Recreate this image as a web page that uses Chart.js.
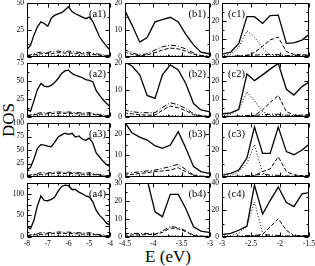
<!DOCTYPE html>
<html>
<head>
<meta charset="utf-8">
<script src="https://cdn.jsdelivr.net/npm/chart.js@4"></script>
<style>
body { margin: 0; background: #fff; }
#fig { position: relative; width: 315px; height: 266px; overflow: hidden; font-family: "Liberation Serif", serif; }
#fig canvas { position: absolute; }
.lab { position: absolute; color: #000; font-size: 17px; white-space: nowrap; transform: translate(-50%, -50%); }
#ylab { left: 9px; top: 120px; transform: translate(-50%, -50%) rotate(-90deg); }
#xlab { left: 168px; top: 257px; }
</style>
</head>
<body>
<div id="fig">
  <div class="lab" id="ylab">DOS</div>
  <div class="lab" id="xlab">E (eV)</div>
</div>
<script>
// energy grids (eV) for each column
const eA = [-8, -7.83, -7.67, -7.5, -7.33, -7.17, -7, -6.83, -6.67, -6.5, -6.33, -6.17, -6, -5.83, -5.67, -5.5, -5.33, -5.17, -5, -4.83, -4.67, -4.5, -4.33, -4.17, -4];
const eB = [-4.52, -4.38, -4.24, -4.11, -3.97, -3.84, -3.7, -3.56, -3.43, -3.29, -3.16, -3.02, -2.88];
const eC = [-3.12, -2.98, -2.85, -2.71, -2.57, -2.44, -2.3, -2.17, -2.03, -1.89, -1.76, -1.62, -1.49, -1.35];

// tick labels
const xTicksA = [-8, -7, -6, -5, -4];
const xTicksB = [-4.5, -4, -3.5, -3];
const xTicksC = [-3, -2.5, -2, -1.5];
const yTicksA = [[0, 25, 50], [0, 25, 50, 75], [0, 25, 50, 75, 100], [0, 25, 50, 75, 100, 125]];
const yTicksB = [[0, 10, 20], [0, 10, 20], [0, 10, 20], [0, 10, 20, 30]];
const yTicksC = [[0, 10, 20, 30], [0, 10, 20, 30], [0, 20, 40], [0, 20, 40]];
const yMaxA = [50, 75, 100, 125];
const yMaxB = [20, 20, 25, 30];
const yMaxC = [30, 30, 40, 40];

// column a : total (solid), dashed, dash-dot, dotted
const a1Tot = [6.5, 11, 20, 28, 32.5, 31, 28.5, 36, 38.5, 40, 41, 43.5, 46.5, 42, 40, 38.5, 37, 35.5, 37, 33, 26, 18.5, 14, 10, 6.5];
const a1Dash = [1, 1.5, 2, 2.5, 3, 3, 3.5, 3, 3.5, 4, 4, 3.5, 4, 3.5, 3, 3.5, 3, 2.5, 3, 2.5, 2, 1.5, 1.5, 1, 1];
const a1DDot = [1.5, 2, 3, 4, 4.5, 4, 4, 5, 5, 5.5, 5, 5, 5.5, 5, 4.5, 4.5, 4, 4, 4.5, 3.5, 3, 2.5, 2, 1.5, 1.5];
const a1Dot = [0.3, 0.5, 0.7, 0.8, 1, 1, 1, 1.2, 1.2, 1.3, 1.2, 1.2, 1.3, 1.2, 1, 1, 1, 1, 1, 0.8, 0.7, 0.5, 0.4, 0.3, 0.3];

const a2Tot = [10.5, 8, 22, 38, 46.5, 43, 42, 44, 48, 53.5, 60.5, 64, 65, 60.5, 58, 56.5, 54.5, 52, 51, 49, 37, 30, 24, 19, 14];
const a2Dash = [1.5, 2, 3, 3.5, 4, 4, 4.5, 4.5, 5, 5, 5.5, 5, 5.5, 5, 4.5, 4.5, 4, 4, 4, 3.5, 3, 2, 2, 1.5, 1.5];
const a2DDot = [2, 3, 4, 5, 6, 6, 5.5, 6.5, 7, 7, 7, 6.5, 7, 6.5, 6, 6, 5.5, 5.5, 6, 5, 4, 3.5, 3, 2, 2];
const a2Dot = [0.5, 0.7, 1, 1, 1.3, 1.3, 1.3, 1.5, 1.5, 1.6, 1.6, 1.5, 1.6, 1.5, 1.3, 1.3, 1.3, 1.3, 1.3, 1, 0.9, 0.7, 0.5, 0.4, 0.4];

const a3Tot = [13, 18, 33, 53, 60, 59, 57, 56, 64, 74, 78, 81, 79, 81, 74, 76, 70, 68, 72, 63, 45, 37, 29, 23, 19];
const a3Dash = [2, 2.5, 4, 4.5, 5, 5, 6, 6, 6.5, 6.5, 7, 6.5, 7, 6.5, 6, 6, 5, 5, 5, 4.5, 4, 2.5, 2.5, 2, 2];
const a3DDot = [2.5, 4, 5, 6.5, 8, 8, 7, 8.5, 9, 9, 9, 8.5, 9, 8.5, 8, 8, 7, 7, 8, 6.5, 5, 4.5, 4, 2.5, 2.5];
const a3Dot = [0.6, 0.9, 1.3, 1.3, 1.7, 1.7, 1.7, 2, 2, 2.1, 2.1, 2, 2.1, 2, 1.7, 1.7, 1.7, 1.7, 1.7, 1.3, 1.2, 0.9, 0.6, 0.5, 0.5];

const a4Tot = [24, 19, 38, 72, 95, 85, 84, 87, 92, 106, 117, 120, 119, 110, 110, 104, 100, 95, 93, 82, 62, 50, 42, 32, 28];
const a4Dash = [2.5, 3, 5, 5.5, 6, 6.5, 7.5, 7.5, 8, 8, 9, 8, 9, 8, 7.5, 7.5, 6.5, 6.5, 6.5, 5.5, 5, 3, 3, 2.5, 2.5];
const a4DDot = [3, 5, 6.5, 8, 10, 10, 9, 10.5, 11, 11.5, 11.5, 10.5, 11.5, 10.5, 10, 10, 9, 9, 10, 8, 6.5, 5.5, 5, 3, 3];
const a4Dot = [0.8, 1.1, 1.6, 1.6, 2.1, 2.1, 2.1, 2.5, 2.5, 2.6, 2.6, 2.5, 2.6, 2.5, 2.1, 2.1, 2.1, 2.1, 2.1, 1.6, 1.5, 1.1, 0.8, 0.6, 0.6];

// column b
const b1Tot = [18, 12, 5.5, 7.2, 13, 13.8, 14.7, 13, 8.5, 4.5, 1.8, 1.2, 1];
const b1Dash = [1.8, 1, 0.4, 0.8, 1.6, 2.6, 3.3, 3, 2.2, 1, 0.4, 0.2, 0.2];
const b1DDot = [2.8, 1.6, 0.7, 1.2, 2.6, 3.8, 4.4, 4, 3, 1.5, 0.6, 0.3, 0.3];
const b1Dot = [0.3, 0.2, 0.1, 0.2, 0.3, 0.4, 0.5, 0.5, 0.4, 0.2, 0.1, 0.1, 0.1];

const b2Tot = [20.5, 19, 15.6, 8, 6.9, 15.6, 19.3, 17.4, 12.5, 5, 2.6, 2, 1.8];
const b2Dash = [1.5, 1.2, 0.8, 0.7, 0.7, 2.5, 4.1, 3.4, 2.4, 0.8, 0.4, 0.3, 0.3];
const b2DDot = [2.6, 2, 1.6, 1.6, 1.6, 3.5, 5.3, 4.5, 3.2, 1.2, 0.5, 0.3, 0.3];
const b2Dot = [0.3, 0.3, 0.2, 0.2, 0.2, 0.4, 0.6, 0.5, 0.4, 0.2, 0.1, 0.1, 0.1];

const b3Tot = [26, 20.5, 18.5, 17.1, 14.5, 13.3, 14.8, 21, 13.5, 4.8, 2.5, 1.7, 1.5];
const b3Dash = [0.9, 1.2, 1.6, 2, 2.5, 2.8, 3.2, 4.3, 2.5, 0.7, 0.3, 0.2, 0.2];
const b3DDot = [1.7, 2, 2.4, 2.8, 3.2, 4, 4.8, 5.9, 3.5, 0.9, 0.4, 0.3, 0.3];
const b3Dot = [0.2, 0.2, 0.3, 0.3, 0.4, 0.4, 0.5, 0.6, 0.4, 0.1, 0.1, 0.1, 0.1];

const b4Tot = [45, 42, 38, 32, 14, 11.3, 23.7, 23.7, 16, 5.7, 3.3, 2.6, 2.4];
const b4Dash = [1.1, 1.1, 1.2, 1.3, 1.5, 2.5, 5, 4.5, 3, 0.7, 0.4, 0.3, 0.3];
const b4DDot = [2, 2, 2, 2, 1.5, 3.3, 5.9, 5.2, 3.5, 1, 0.5, 0.4, 0.4];
const b4Dot = [0.3, 0.3, 0.3, 0.3, 0.3, 0.4, 0.7, 0.6, 0.4, 0.2, 0.1, 0.1, 0.1];

// column c
const c1Tot = [1.5, 1.7, 2.7, 7.6, 22.4, 22.4, 18.7, 23, 23.3, 7.6, 7.8, 9.4, 12.8, 15];
const c1Dash = [0.2, 0.2, 0.3, 0.5, 0.8, 2.5, 6, 9.5, 11, 3, 1.5, 1.2, 1.2, 1.2];
const c1DDot = [0.2, 0.3, 0.4, 0.6, 1, 1, 1.3, 1.5, 1.3, 0.8, 0.7, 0.8, 1, 1];
const c1Dot = [0.5, 0.8, 1.5, 5.5, 14.5, 11, 5, 1.2, 0.8, 0.6, 0.5, 0.5, 0.5, 0.5];

const c2Tot = [1.5, 1.8, 2.3, 4.3, 23.9, 20.2, 23.4, 26.6, 29.8, 15.4, 12.2, 16.9, 19.6, 22];
const c2Dash = [0.2, 0.2, 0.3, 0.4, 0.5, 0.8, 4, 8, 12, 3, 1, 1, 1, 1];
const c2DDot = [0.2, 0.3, 0.4, 0.5, 0.8, 1, 1.2, 1.5, 1.5, 1, 0.8, 1, 1.2, 1.2];
const c2Dot = [0.5, 0.8, 1.5, 4, 14, 9, 3, 1, 0.7, 0.5, 0.5, 0.5, 0.5, 0.5];

const c3Tot = [1.3, 1.5, 2.7, 5.2, 14, 37, 17.5, 17.5, 37, 18.8, 16.5, 20, 24.5, 28];
const c3Dash = [0.2, 0.2, 0.3, 0.4, 0.6, 1, 4, 6, 15, 4, 1.5, 1, 1, 1];
const c3DDot = [0.2, 0.3, 0.4, 0.6, 1, 1.5, 2, 1.5, 1.2, 0.8, 0.7, 0.8, 1, 1];
const c3Dot = [0.5, 0.7, 1, 4, 10, 24, 3, 0.5, 0.4, 0.3, 0.3, 0.3, 0.3, 0.3];

const c4Tot = [1.8, 2, 2.7, 5, 8, 38.5, 17, 27, 37, 25.5, 22.5, 32, 33, 50];
const c4Dash = [0.2, 0.2, 0.3, 0.4, 0.5, 0.8, 2, 7.5, 13.5, 5, 1, 1, 1, 1];
const c4DDot = [0.2, 0.3, 0.4, 0.6, 1, 1.2, 1.5, 1.5, 1.2, 0.8, 0.7, 0.8, 1, 1];
const c4Dot = [0.5, 0.7, 1, 3, 8, 26, 3, 0.5, 0.4, 0.3, 0.3, 0.3, 0.3, 0.3];

// layout of the 4x3 panel grid (pixels)
const colLeft = [27, 125, 222];
const colWidth = [83, 85, 87];
const rowTop = [3, 63, 123, 183];
const rowH = 54;
const FONT = "'Liberation Serif', 'Times New Roman', serif";

const columns = [
  { e: eA, xr: [-8, -4], xt: xTicksA, yt: yTicksA, ymax: yMaxA, tag: 'a', left: false,
    rows: [[a1Tot, a1Dash, a1DDot, a1Dot], [a2Tot, a2Dash, a2DDot, a2Dot], [a3Tot, a3Dash, a3DDot, a3Dot], [a4Tot, a4Dash, a4DDot, a4Dot]] },
  { e: eB, xr: [-4.5, -3], xt: xTicksB, yt: yTicksB, ymax: yMaxB, tag: 'b', left: false,
    rows: [[b1Tot, b1Dash, b1DDot, b1Dot], [b2Tot, b2Dash, b2DDot, b2Dot], [b3Tot, b3Dash, b3DDot, b3Dot], [b4Tot, b4Dash, b4DDot, b4Dot]] },
  { e: eC, xr: [-3, -1.5], xt: xTicksC, yt: yTicksC, ymax: yMaxC, tag: 'c', left: true,
    rows: [[c1Tot, c1Dash, c1DDot, c1Dot], [c2Tot, c2Dash, c2DDot, c2Dot], [c3Tot, c3Dash, c3DDot, c3Dot], [c4Tot, c4Dash, c4DDot, c4Dot]] }
];

// frame with inward ticks on all four sides, plus the panel tag
const framePlugin = {
  id: 'frame',
  afterDatasetsDraw(chart, args, opts) {
    const { ctx, chartArea: a, scales: { x, y } } = chart;
    const L = Math.round(a.left) + 0.5, R = Math.round(a.right) - 0.5;
    const T = Math.round(a.top) + 0.5, B = Math.round(a.bottom) - 0.5;
    ctx.save();
    ctx.strokeStyle = '#000';
    ctx.lineWidth = 1;
    ctx.strokeRect(L, T, R - L, B - T);
    ctx.beginPath();
    const xs = opts.xt;
    xs.forEach((v, i) => {
      const px = Math.round(x.getPixelForValue(v)) + 0.5;
      ctx.moveTo(px, B); ctx.lineTo(px, B - 4);
      ctx.moveTo(px, T); ctx.lineTo(px, T + 4);
      if (i < xs.length - 1) {
        const m = Math.round(x.getPixelForValue((v + xs[i + 1]) / 2)) + 0.5;
        ctx.moveTo(m, B); ctx.lineTo(m, B - 2);
        ctx.moveTo(m, T); ctx.lineTo(m, T + 2);
      }
    });
    const ys = opts.yt;
    const half = (ys[1] - ys[0]) / 2;
    ys.forEach((v) => {
      const py = Math.round(y.getPixelForValue(v)) + 0.5;
      ctx.moveTo(L, py); ctx.lineTo(L + 4, py);
      ctx.moveTo(R, py); ctx.lineTo(R - 4, py);
      if (v + half < y.max) {
        const m = Math.round(y.getPixelForValue(v + half)) + 0.5;
        ctx.moveTo(L, m); ctx.lineTo(L + 2, m);
        ctx.moveTo(R, m); ctx.lineTo(R - 2, m);
      }
    });
    ctx.stroke();
    ctx.fillStyle = '#000';
    ctx.font = '10.5px ' + FONT;
    ctx.textBaseline = 'middle';
    if (opts.left) {
      ctx.textAlign = 'left';
      ctx.fillText(opts.tag, a.left + 6, a.top + 11);
    } else {
      ctx.textAlign = 'right';
      ctx.fillText(opts.tag, a.right - 4, a.top + 11);
    }
    ctx.restore();
  }
};

function lineSet(e, vals, dash, width) {
  return {
    data: e.map((x, i) => ({ x: x, y: vals[i] })),
    borderColor: '#000',
    borderWidth: width,
    borderDash: dash,
    pointRadius: 0,
    tension: 0,
    fill: false,
    clip: 0
  };
}

const fig = document.getElementById('fig');

columns.forEach((col, c) => {
  col.rows.forEach((series, r) => {
    const L = colLeft[c], T = rowTop[r], W = colWidth[c];
    const cv = document.createElement('canvas');
    cv.width = W + 40;
    cv.height = rowH + 22;
    cv.style.left = (L - 30) + 'px';
    cv.style.top = (T - 8) + 'px';
    fig.appendChild(cv);

    const yt = col.yt[r];
    new Chart(cv, {
      type: 'line',
      data: {
        datasets: [
          lineSet(col.e, series[0], [], 1.3),
          lineSet(col.e, series[1], [4, 2], 1),
          lineSet(col.e, series[2], [5, 2, 1, 2], 1),
          lineSet(col.e, series[3], [1, 2], 1)
        ]
      },
      options: {
        responsive: false,
        animation: false,
        devicePixelRatio: 1,
        events: [],
        layout: { padding: { top: 8, right: 10, left: 0, bottom: 0 } },
        plugins: {
          legend: { display: false },
          tooltip: { enabled: false },
          frame: { xt: col.xt, yt: yt, tag: '(' + col.tag + (r + 1) + ')', left: col.left }
        },
        scales: {
          x: {
            type: 'linear',
            min: col.xr[0],
            max: col.xr[1],
            grid: { display: false, drawTicks: false },
            border: { display: false },
            afterBuildTicks: (s) => { s.ticks = col.xt.map(v => ({ value: v })); },
            afterFit: (s) => { s.height = 14; },
            ticks: {
              display: r === 3,
              color: '#000',
              font: { family: FONT, size: 7.5 },
              padding: 3,
              maxRotation: 0,
              autoSkip: false,
              callback: (v) => String(v)
            }
          },
          y: {
            type: 'linear',
            min: 0,
            max: col.ymax[r],
            grid: { display: false, drawTicks: false },
            border: { display: false },
            afterBuildTicks: (s) => { s.ticks = yt.map(v => ({ value: v })); },
            afterFit: (s) => { s.width = 30; },
            ticks: {
              color: '#000',
              font: { family: FONT, size: 7.5 },
              padding: 3,
              callback: (v) => String(v)
            }
          }
        }
      },
      plugins: [framePlugin]
    });
  });
});
</script>
</body>
</html>
